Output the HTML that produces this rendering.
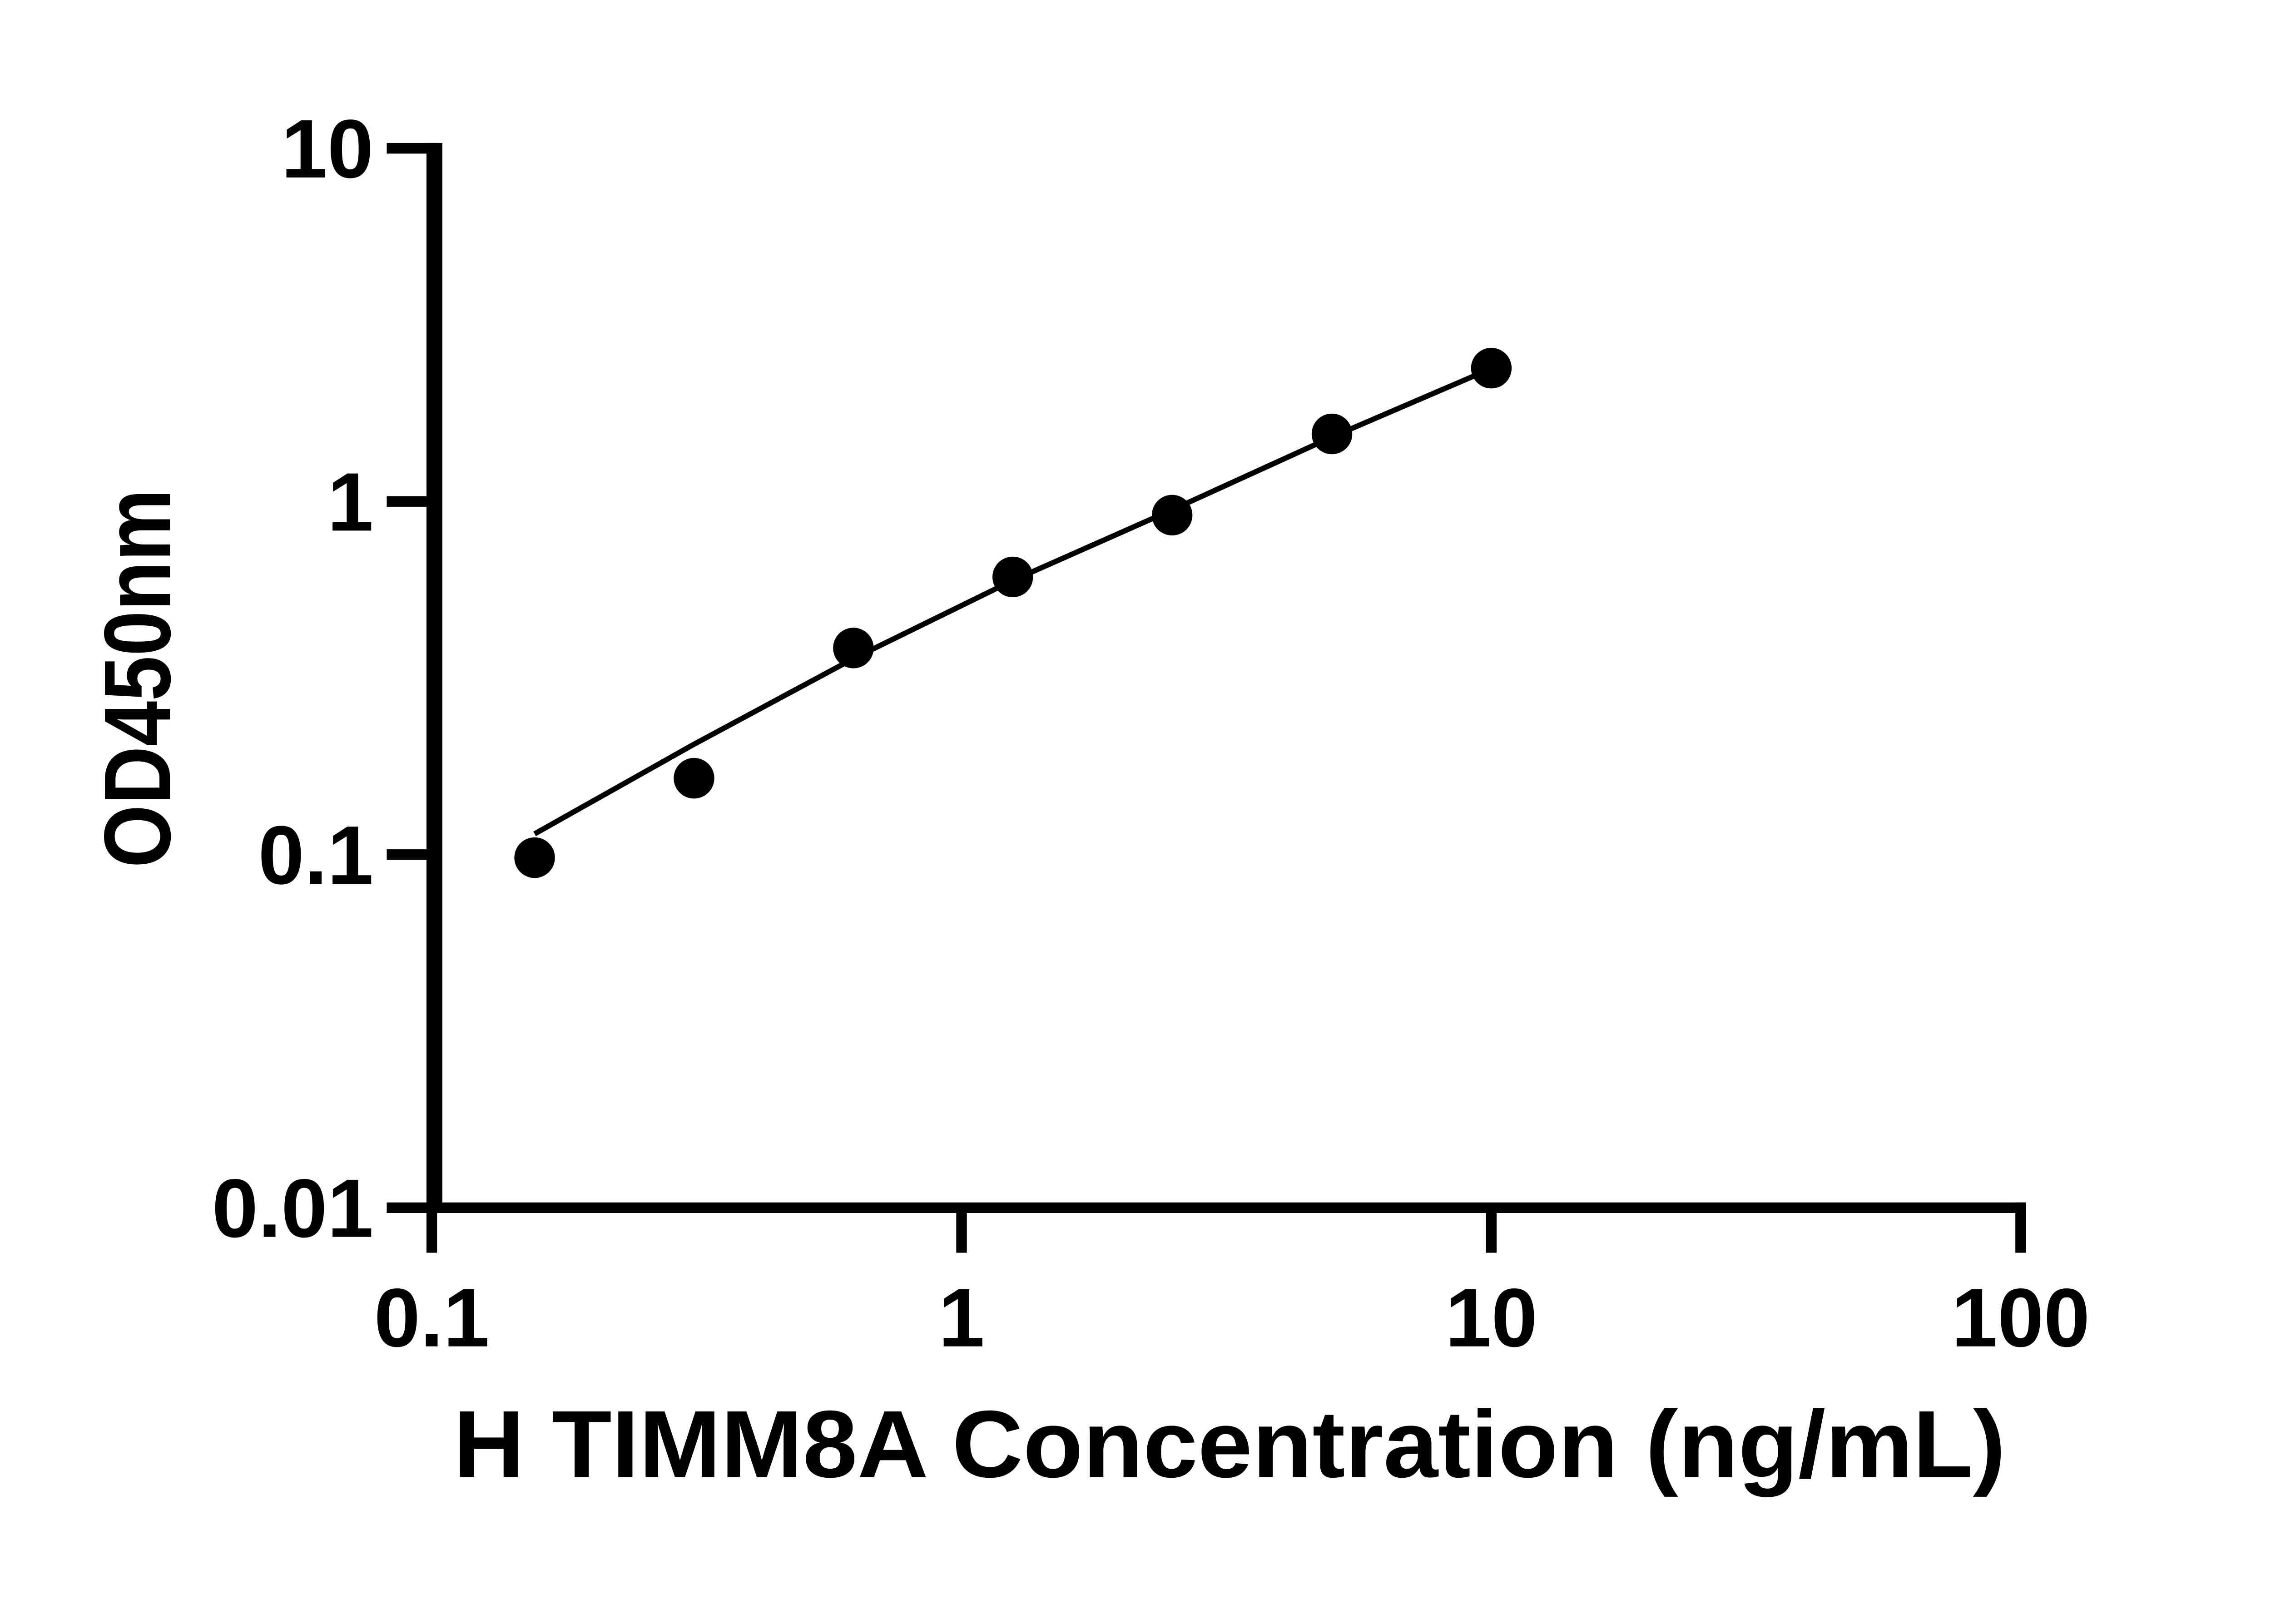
<!DOCTYPE html>
<html><head><meta charset="utf-8"><style>
html,body{margin:0;padding:0;background:#fff;}
svg{display:block;}
text{font-family:"Liberation Sans",Arial,sans-serif;font-weight:bold;fill:#000;}
</style></head><body>
<svg width="5130" height="3576" viewBox="0 0 5130 3576" xmlns="http://www.w3.org/2000/svg">
<rect width="5130" height="3576" fill="#fff"/>
<g transform="scale(0.972)">
<g stroke="#000" stroke-width="24" fill="none" stroke-linecap="butt">
<path d="M876 336 H990 V2736" />
<line x1="876" y1="1136" x2="978" y2="1136"/>
<line x1="876" y1="1936" x2="978" y2="1936"/>
<line x1="876" y1="2736" x2="4589" y2="2736"/>
<line x1="978" y1="2724" x2="978" y2="2838"/>
<line x1="2178" y1="2736" x2="2178" y2="2838"/>
<line x1="3378" y1="2736" x2="3378" y2="2838"/>
<line x1="4577" y1="2724" x2="4577" y2="2838"/>
</g>
<line x1="978" y1="324" x2="978" y2="2748" stroke="#000" stroke-width="24"/>
<g font-size="188" text-anchor="end">
<text x="846" y="402">10</text>
<text x="846" y="1202">1</text>
<text x="846" y="2002">0.1</text>
<text x="846" y="2802">0.01</text>
</g>
<g font-size="188" text-anchor="middle">
<text x="978" y="3050">0.1</text>
<text x="2178" y="3050">1</text>
<text x="3378" y="3050">10</text>
<text x="4577" y="3050">100</text>
</g>
<path d="M1211 1889 L1572 1686 L1933 1492 L2294 1315 L2655 1155 L3017 990 L3352 846" stroke="#000" stroke-width="12" fill="none"/>
<g fill="#000">
<circle cx="1211" cy="1943" r="46"/>
<circle cx="1572" cy="1763" r="46"/>
<circle cx="1933" cy="1468" r="46"/>
<circle cx="2294" cy="1307" r="46"/>
<circle cx="2655" cy="1167" r="46"/>
<circle cx="3017" cy="983" r="46"/>
<circle cx="3378" cy="834" r="46"/>
</g>
<text x="1027" y="3346" font-size="216" textLength="3516" lengthAdjust="spacingAndGlyphs">H TIMM8A Concentration (ng/mL)</text>
<text transform="translate(385,1966) rotate(-90)" x="0" y="0" font-size="214" textLength="858" lengthAdjust="spacingAndGlyphs">OD450nm</text>
</g>
</svg>
</body></html>
